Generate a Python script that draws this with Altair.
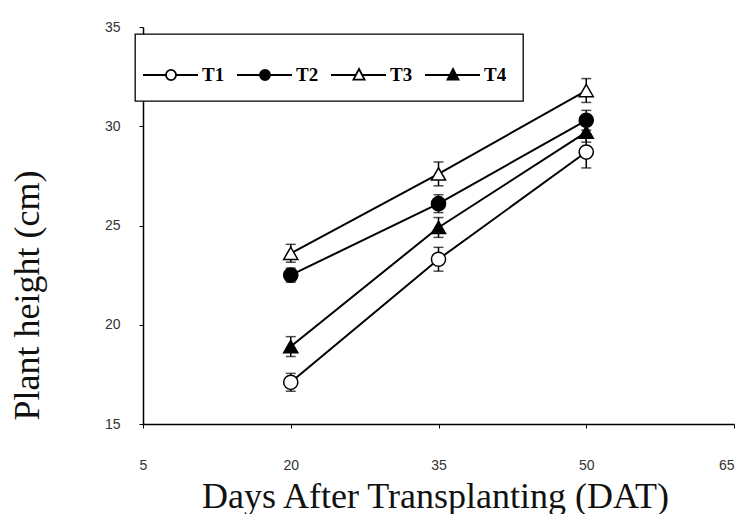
import altair as alt
import pandas as pd

days = [20, 35, 50]
series = ["T1", "T2", "T3", "T4"]
t1 = [17.1, 23.3, 28.7]
t2 = [22.5, 26.1, 30.3]
t3 = [23.6, 27.6, 31.8]
t4 = [18.9, 24.9, 29.7]
e1 = [0.45, 0.6, 0.8]
e2 = [0.35, 0.45, 0.5]
e3 = [0.45, 0.6, 0.6]
e4 = [0.5, 0.5, 0.5]

rows = []
for name, vals, errs in [("T1", t1, e1), ("T2", t2, e2), ("T3", t3, e3), ("T4", t4, e4)]:
    for d, v, e in zip(days, vals, errs):
        rows.append({"day": d, "series": name, "height": v, "lo": v - e, "hi": v + e})
df = pd.DataFrame(rows)

xscale = alt.Scale(domain=[5, 65])
yscale = alt.Scale(domain=[15, 35])

xaxis = alt.Axis(
    values=[5, 20, 35, 50, 65], title="Days After Transplanting (DAT)",
    grid=False, domainColor="black", domainWidth=1.5, tickColor="black", tickSize=4,
    labelFont="Liberation Sans", labelFontSize=14, labelColor="#333", labelPadding=30,
    labelAlign={"condition": {"test": "datum.value == 65", "value": "right"}, "value": "center"},
    titleFont="Liberation Serif", titleFontSize=36, titleFontWeight="normal", titleColor="#111",
    titleX=292, titleY=83, titleBaseline="alphabetic", titleAlign="center",
)
yaxis = alt.Axis(
    values=[15, 20, 25, 30, 35], title="Plant height (cm)",
    grid=False, domainColor="black", domainWidth=1.5, tickColor="black", tickSize=4,
    labelFont="Liberation Sans", labelFontSize=14, labelColor="#333", labelPadding=19,
    titleFont="Liberation Serif", titleFontSize=36, titleFontWeight="normal", titleColor="#111",
    titleX=-105, titleY=268, titleBaseline="alphabetic", titleAlign="center", titleAngle=-90,
)

base = alt.Chart(df)

err = base.mark_errorbar(ticks={"size": 10, "color": "black", "thickness": 1.5}, color="black", thickness=1.5).encode(
    x=alt.X("day:Q", scale=xscale, axis=xaxis),
    y=alt.Y("lo:Q", scale=yscale, axis=yaxis),
    y2="hi:Q",
)

lines = base.mark_line(color="black", strokeWidth=2).encode(
    x=alt.X("day:Q", scale=xscale),
    y=alt.Y("height:Q", scale=yscale),
    detail="series:N",
)

points = base.mark_point(size=200, stroke="black", strokeWidth=1.5, opacity=1, filled=True).encode(
    x=alt.X("day:Q", scale=xscale),
    y=alt.Y("height:Q", scale=yscale),
    shape=alt.Shape("series:N", scale=alt.Scale(domain=series, range=["circle", "circle", "triangle-up", "triangle-up"]), legend=None),
    fill=alt.Fill("series:N", scale=alt.Scale(domain=series, range=["white", "black", "white", "black"]), legend=None),
)

circ = "M-1.375,0H-0.418M0.002,0H0.917M-0.418,0A0.21,0.21 0 1,0 0.002,0A0.21,0.21 0 1,0 -0.418,0"
tri = "M-1.375,0H-0.338M-0.078,0H0.917M-0.208,-0.25L0.022,0.19L-0.438,0.19Z"

leg = alt.Legend(title=None, orient="none", legendX=-8, legendY=7, direction="horizontal",
                 symbolSize=2304, symbolStrokeColor="black", symbolStrokeWidth=1.8,
                 symbolOpacity=1, labelFont="Liberation Serif", labelFontSize=19,
                 labelFontWeight="bold", labelColor="black", labelOffset=1,
                 columnPadding=8, padding=16, strokeColor="black", fillColor="white")

legend_layer = base.mark_point(size=0, filled=True, strokeWidth=1.8).encode(
    x=alt.X("day:Q", scale=xscale),
    y=alt.Y("height:Q", scale=yscale),
    shape=alt.Shape("series:N", scale=alt.Scale(domain=series, range=[circ, circ, tri, tri]), legend=leg),
    fill=alt.Fill("series:N", scale=alt.Scale(domain=series, range=["white", "black", "white", "black"]), legend=leg),
    stroke=alt.Stroke("series:N", scale=alt.Scale(domain=series, range=["black", "black", "black", "black"]), legend=leg),
)

chart = alt.layer(err, lines, points, legend_layer).resolve_scale(
    shape="independent", fill="independent", stroke="independent"
).properties(
    width=591, height=397,
    autosize="none",
    padding={"left": 135, "top": 19, "right": 4, "bottom": 90},
).configure_view(stroke=None).configure_axis(labelFlush=False).configure_legend(strokeWidth=1.3)

chart.save("out.html", embed_options={"renderer": "svg", "actions": False})
